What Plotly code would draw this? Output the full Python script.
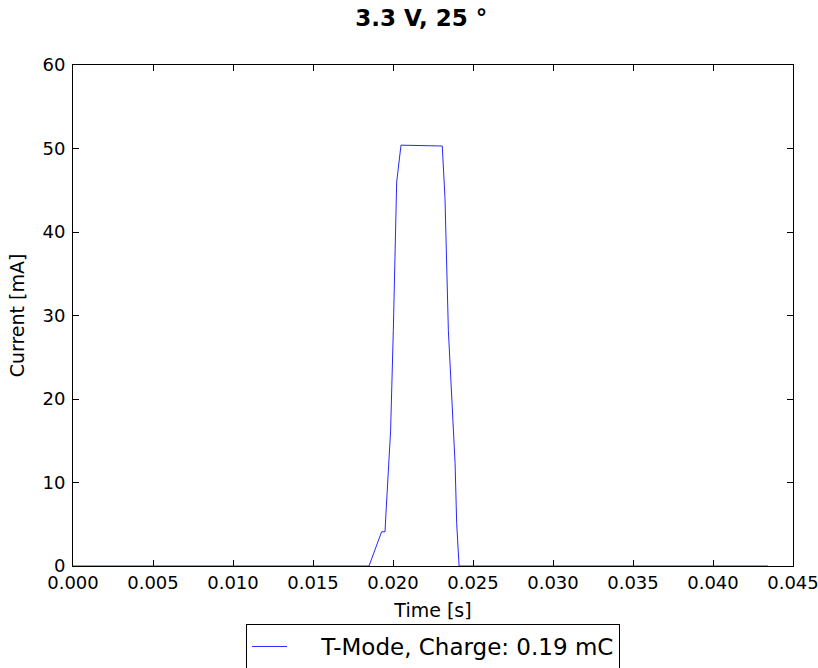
import plotly.graph_objects as go

time_s = [0.0, 0.0100, 0.0185, 0.01929, 0.0195, 0.01956, 0.01985, 0.02002, 0.02023, 0.0205,
          0.02308, 0.02325, 0.02346, 0.02388, 0.02398, 0.02413, 0.0300, 0.04344]
current_mA = [0.0, 0.0, 0.0, 4.1, 4.1, 6.3, 16.2, 28.2, 46.0, 50.4,
              50.3, 44.0, 28.2, 12.3, 5.1, 0.0, 0.0, 0.0]

x_ticks = [0.000, 0.005, 0.010, 0.015, 0.020, 0.025, 0.030, 0.035, 0.040, 0.045]
y_ticks = [0, 10, 20, 30, 40, 50, 60]

font = "DejaVu Sans"

fig = go.Figure()
fig.add_trace(go.Scatter(x=time_s, y=current_mA, mode="lines",
                         line=dict(color="rgba(0,0,255,0.85)", width=1),
                         name="\u00a0\u00a0\u00a0\u00a0T-Mode, Charge: 0.19 mC"))

axis_common = dict(showgrid=False, zeroline=False, showline=True, linecolor="black",
                   linewidth=1, mirror="ticks", ticks="inside", ticklen=6,
                   tickcolor="black", tickwidth=1, automargin=False,
                   ticklabeloverflow="allow",
                   tickfont=dict(family=font, size=18, color="black"),
                   title_font=dict(family=font, size=19, color="black"))

fig.update_layout(
    width=818, height=668,
    margin=dict(l=73, r=25, t=65, b=102, autoexpand=False),
    paper_bgcolor="white", plot_bgcolor="white",
    title=dict(text="<b>3.3 V, 25 °</b>", x=0.515, xanchor="center", y=0.973, yanchor="middle",
               font=dict(family=font, size=23, color="black")),
    xaxis=dict(range=[0, 0.045], tickvals=x_ticks,
               ticktext=[f"{v:.3f}" for v in x_ticks],
               title=dict(text="Time [s]", standoff=12), **axis_common),
    yaxis=dict(range=[0, 60], tickvals=y_ticks, ticklabelstandoff=3,
               title=dict(text="Current [mA]", standoff=12), **axis_common),
    showlegend=True,
    legend=dict(orientation="h", x=0.5, xanchor="center", y=-0.1158, yanchor="top",
                bordercolor="black", borderwidth=1, bgcolor="white", itemwidth=35,
                font=dict(family=font, size=23, color="black")),
)

fig.write_html("out.html", config={"displayModeBar": False},
               post_script="document.body.style.margin='0';")
